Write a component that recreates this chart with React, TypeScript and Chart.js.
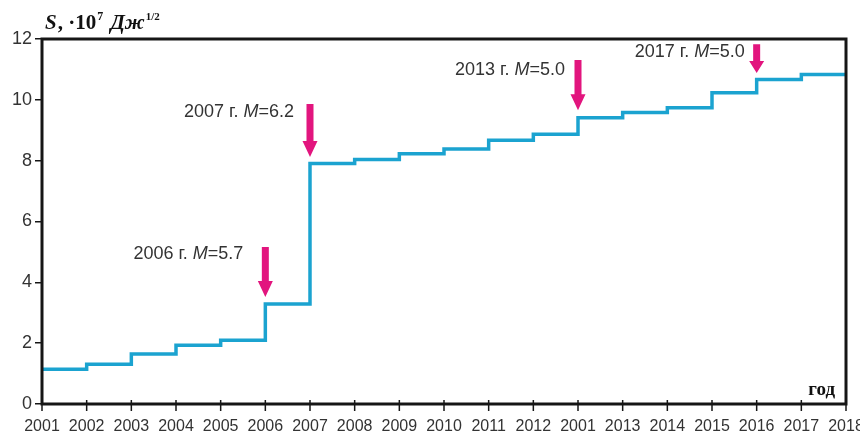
import { useEffect, useRef } from "react";
import { Chart, registerables } from "chart.js";

Chart.register(...registerables);

// Year labels along the x axis (as printed on the original axis)
const yearLabels = [
  "2001", "2002", "2003", "2004", "2005", "2006", "2007", "2008", "2009", "2010",
  "2011", "2012", "2001", "2013", "2014", "2015", "2016", "2017", "2018",
];

// Cumulative Benioff strain S, ×10^7 J^1/2 (value held until the next year)
const strainValues = [
  1.14, 1.31, 1.64, 1.93, 2.1, 3.29, 7.91, 8.04, 8.23, 8.38,
  8.67, 8.87, 9.41, 9.58, 9.74, 10.23, 10.67, 10.83, 10.83,
];

// Strong earthquakes marked with arrows
const eventYears = ["2006 г.", "2007 г.", "2013 г.", "2017 г."];
const eventMagnitudes = ["5.7", "6.2", "5.0", "5.0"];
const eventIndex = [5, 6, 12, 16];

// Arrow extents and caption placement, in axis units
const arrowLayout = [
  { top: 5.16, tip: 3.52, textY: 4.93, gap: 22 },
  { top: 9.86, tip: 8.12, textY: 9.6, gap: 16 },
  { top: 11.31, tip: 9.66, textY: 10.98, gap: 13 },
  { top: 11.83, tip: 10.88, textY: 11.57, gap: 12 },
];

const SANS = "'Liberation Sans', Arial, sans-serif";
const SERIF = "'Liberation Serif', 'Times New Roman', serif";
const AXIS = "#161616";
const LINE = "#1ba3d0";
const ARROW = "#e2157e";

const decorations = {
  id: "decorations",
  afterDatasetsDraw(chart: any) {
    const { ctx, chartArea, scales } = chart;
    const xs = scales.x;
    const ys = scales.y;
    ctx.save();

    // frame
    ctx.strokeStyle = AXIS;
    ctx.lineWidth = 3;
    ctx.strokeRect(chartArea.left, chartArea.top, chartArea.right - chartArea.left, chartArea.bottom - chartArea.top);

    // x tick marks crossing the bottom axis
    ctx.lineWidth = 1.5;
    for (let i = 0; i < yearLabels.length; i++) {
      const x = xs.getPixelForValue(i);
      ctx.beginPath();
      ctx.moveTo(x, chartArea.bottom - 4);
      ctx.lineTo(x, chartArea.bottom + 7);
      ctx.stroke();
    }

    // arrows and captions
    for (let k = 0; k < eventIndex.length; k++) {
      const a = arrowLayout[k];
      const x = xs.getPixelForValue(eventIndex[k]);
      const y0 = ys.getPixelForValue(a.top);
      const y1 = ys.getPixelForValue(a.tip);
      const len = y1 - y0;
      const head = Math.min(16, len * 0.42);
      const shaft = 3.5;
      const half = 7.5;
      ctx.fillStyle = ARROW;
      ctx.beginPath();
      ctx.moveTo(x - shaft, y0);
      ctx.lineTo(x + shaft, y0);
      ctx.lineTo(x + shaft, y1 - head);
      ctx.lineTo(x + half, y1 - head);
      ctx.lineTo(x, y1);
      ctx.lineTo(x - half, y1 - head);
      ctx.lineTo(x - shaft, y1 - head);
      ctx.closePath();
      ctx.fill();

      const ty = ys.getPixelForValue(a.textY);
      const pre = eventYears[k] + " ";
      const post = "=" + eventMagnitudes[k];
      const normal = `18px ${SANS}`;
      const italic = `italic 18px ${SANS}`;
      ctx.font = normal;
      const wPre = ctx.measureText(pre).width;
      const wPost = ctx.measureText(post).width;
      ctx.font = italic;
      const wM = ctx.measureText("M").width;
      let tx = x - a.gap - (wPre + wM + wPost);
      ctx.fillStyle = "#333333";
      ctx.textBaseline = "middle";
      ctx.textAlign = "left";
      ctx.font = normal;
      ctx.fillText(pre, tx, ty);
      tx += wPre;
      ctx.font = italic;
      ctx.fillText("M", tx, ty);
      tx += wM;
      ctx.font = normal;
      ctx.fillText(post, tx, ty);
    }

    // y-axis title: S, ·10^7 Дж^1/2
    ctx.fillStyle = "#111111";
    ctx.textBaseline = "alphabetic";
    ctx.textAlign = "left";
    let px = chartArea.left + 3;
    const base = chartArea.top - 10;
    const parts: [string, string, number][] = [
      ["S", `bold italic 21px ${SERIF}`, 0],
      [", ·10", `bold 21px ${SERIF}`, 0],
      ["7", `bold 12px ${SERIF}`, -9],
      [" ", `bold 21px ${SERIF}`, 0],
      ["Дж", `bold italic 21px ${SERIF}`, 0],
      ["1/2", `bold 11px ${SERIF}`, -9],
    ];
    for (const [t, f, dy] of parts) {
      ctx.font = f;
      ctx.fillText(t, px, base + dy);
      px += ctx.measureText(t).width + 1;
    }

    // x-axis title inside the frame
    ctx.font = `bold 19px ${SERIF}`;
    ctx.textAlign = "right";
    ctx.fillText("год", chartArea.right - 11, chartArea.bottom - 9);

    ctx.restore();
  },
};

export default function App() {
  const canvasRef = useRef<HTMLCanvasElement | null>(null);

  useEffect(() => {
    document.body.style.margin = "0";
    const canvas = canvasRef.current;
    if (!canvas) return;
    const chart = new Chart(canvas, {
      type: "line",
      data: {
        labels: yearLabels,
        datasets: [
          {
            data: strainValues,
            stepped: true,
            borderColor: LINE,
            borderWidth: 3.5,
            pointRadius: 0,
            fill: false,
          },
        ],
      },
      options: {
        animation: false,
        responsive: false,
        maintainAspectRatio: false,
        layout: { padding: { top: 39, right: 14, left: 0, bottom: 0 } },
        plugins: { legend: { display: false }, tooltip: { enabled: false } },
        scales: {
          x: {
            type: "category",
            offset: false,
            border: { display: false },
            grid: { display: false },
            ticks: {
              autoSkip: false,
              maxRotation: 0,
              padding: 5,
              color: "#333333",
              font: { family: SANS, size: 16 },
            },
            afterFit(scale: any) {
              scale.height = 28;
              scale.paddingLeft = 0;
              scale.paddingRight = 0;
            },
          },
          y: {
            min: 0,
            max: 12,
            border: { display: false },
            grid: {
              display: true,
              drawOnChartArea: false,
              drawTicks: true,
              tickLength: 7,
              color: AXIS,
              lineWidth: 1.5,
            },
            ticks: {
              stepSize: 2,
              padding: 3,
              color: "#333333",
              font: { family: SANS, size: 18 },
            },
            afterFit(scale: any) {
              scale.width = 42;
            },
          },
        },
      },
      plugins: [decorations],
    });
    return () => chart.destroy();
  }, []);

  return (
    <div style={{ position: "fixed", left: 0, top: 0, width: 860, height: 432, background: "#ffffff" }}>
      <canvas ref={canvasRef} width={860} height={432} />
    </div>
  );
}
